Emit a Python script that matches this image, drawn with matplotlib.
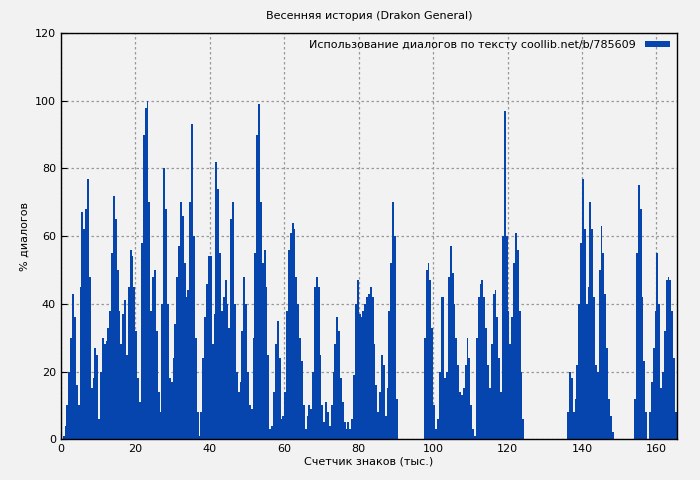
import numpy as np
import matplotlib
matplotlib.use("Agg")
import matplotlib.pyplot as plt

# dialogue percentage per 0.5 thousand characters, starting at 0.5
part1 = [1,4,10,20,30,43,36,16,10,45, 67,62,68,77,48,15,18,27,25,6,
         20,30,28,29,33,38,55,72,65,50, 38,28,37,41,25,45,56,54,45,32,
         18,11,58,90,98,100,70,38,48,50, 32,14,8,40,80,68,40,18,17,24,
         34,48,57,70,66,52,42,44,70,93, 60,30,8,1,8,24,36,46,54,54,
         28,37,82,74,55,38,42,47,40,33, 65,70,40,20,14,17,32,48,40,20,
         10,9,30,55,90,99,70,52,56,45, 25,3,4,14,28,35,24,6,7,14,
         38,56,61,64,62,48,40,30,23,10, 3,7,10,9,20,45,48,45,25,10,
         5,11,8,4,10,20,28,36,32,18, 11,5,3,5,3,6,19,40,47,37,
         36,38,40,42,43,45,42,28,16,8, 14,25,22,7,15,38,52,70,60,12]
gap1 = [0]*14
part2 = [30,50,52,47,33,10,3,6,20,42, 42,18,20,48,57,49,40,30,22,14,
         13,15,22,30,24,10,3,1,30,42, 46,47,42,33,22,15,28,43,44,36,
         24,14,60,97,60,38,28,36,52,61, 56,38,20,6]
gap2 = [0]*23
part3 = [8,20,18,8,12,22,40,58,77,62, 40,45,70,62,42,22,20,50,63,55,
         43,27,12,7,2]
gap3 = [0]*11
part4 = [12,55,75,68,42,23,8,0,8,17, 27,38,55,40,15,20,32,47,48,47,
         38,24,8]
values = part1 + gap1 + part2 + gap2 + part3 + gap3 + part4
x = 0.5 * (np.arange(len(values)) + 1)

xticks = [0, 20, 40, 60, 80, 100, 120, 140, 160]
yticks = [0, 20, 40, 60, 80, 100, 120]

bg = "#f2f2f2"
fig = plt.figure(figsize=(7, 4.8), dpi=100, facecolor=bg)
ax = fig.add_axes([0.087, 0.085, 0.88, 0.846], facecolor=bg)
ax.bar(x, values, width=0.5, color="#0645ad", align="edge",
       label="Использование диалогов по тексту coollib.net/b/785609", zorder=2)
ax.set_xlim(0, 165.5)
ax.set_ylim(0, 120)
ax.set_xticks(xticks)
ax.set_yticks(yticks)
ax.grid(True, color="#999999", linestyle=(0, (2, 2)), linewidth=0.9, zorder=0)
ax.tick_params(labelsize=8, direction="in", length=4)
ax.set_title("Весенняя история (Drakon General)", fontsize=8, pad=10)
ax.set_xlabel("Счетчик знаков (тыс.)", fontsize=8, labelpad=2)
ax.set_ylabel("% диалогов", fontsize=8)
leg = ax.legend(loc="upper right", fontsize=8, frameon=False, markerfirst=False,
                handlelength=2.3, handleheight=0.5, borderaxespad=0.2)
for s in ax.spines.values():
    s.set_linewidth(1)
fig.savefig("out.png", dpi=100, facecolor=bg)
